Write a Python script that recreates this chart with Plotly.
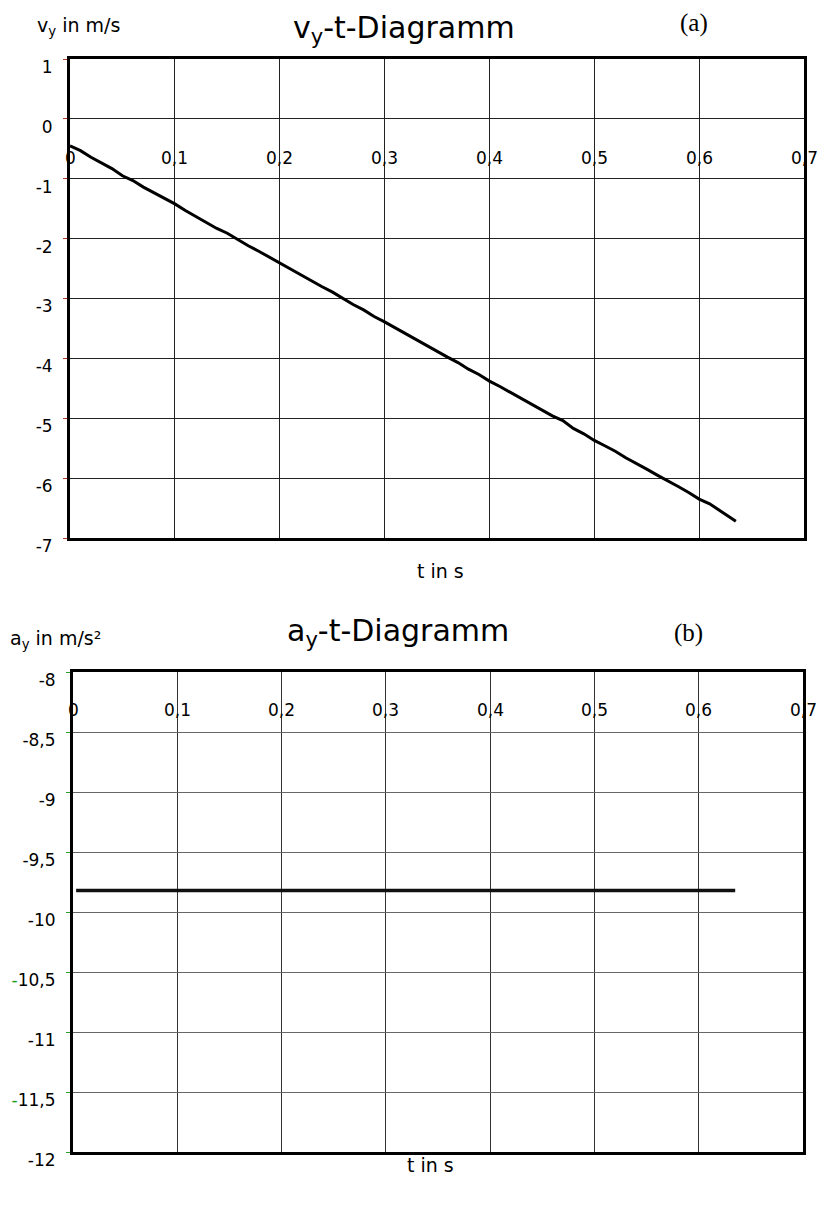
import plotly.graph_objects as go

# ---------------- data ----------------
T_V = [0.00, 0.01, 0.02, 0.03, 0.04, 0.05, 0.06, 0.07, 0.08, 0.09,
       0.10, 0.11, 0.12, 0.13, 0.14, 0.15, 0.16, 0.17, 0.18, 0.19,
       0.20, 0.21, 0.22, 0.23, 0.24, 0.25, 0.26, 0.27, 0.28, 0.29,
       0.30, 0.31, 0.32, 0.33, 0.34, 0.35, 0.36, 0.37, 0.38, 0.39,
       0.40, 0.41, 0.42, 0.43, 0.44, 0.45, 0.46, 0.47, 0.48, 0.49,
       0.50, 0.51, 0.52, 0.53, 0.54, 0.55, 0.56, 0.57, 0.58, 0.59,
       0.60, 0.61, 0.62, 0.63, 0.635]
V_Y = [-0.45, -0.53, -0.64, -0.74, -0.83, -0.95, -1.03, -1.14, -1.23, -1.33,
       -1.42, -1.53, -1.63, -1.72, -1.83, -1.91, -2.02, -2.12, -2.21, -2.31,
       -2.41, -2.51, -2.60, -2.71, -2.80, -2.89, -3.00, -3.10, -3.19, -3.30,
       -3.39, -3.49, -3.58, -3.69, -3.78, -3.88, -3.98, -4.07, -4.18, -4.27,
       -4.38, -4.47, -4.57, -4.66, -4.77, -4.86, -4.96, -5.04, -5.17, -5.26,
       -5.37, -5.46, -5.55, -5.66, -5.75, -5.85, -5.95, -6.04, -6.14, -6.24,
       -6.35, -6.43, -6.54, -6.66, -6.72]

T_A = [0.003, 0.635]
A_Y = [-9.82, -9.82]

X_TICKS = [0, 0.1, 0.2, 0.3, 0.4, 0.5, 0.6, 0.7]
X_TICK_TEXT = ["0", "0,1", "0,2", "0,3", "0,4", "0,5", "0,6", "0,7"]

V_TICKS = [1, 0, -1, -2, -3, -4, -5, -6, -7]
V_TICK_TEXT = ["1", "0", "-1", "-2", "-3", "-4", "-5", "-6", "-7"]

A_TICKS = [-8, -8.5, -9, -9.5, -10, -10.5, -11, -11.5, -12]
A_TICK_TEXT = ["-8", "-8,5", "-9", "-9,5", "-10",
               "<span style='color:#1a9a1a'>-</span>10,5", "-11",
               "<span style='color:#1a9a1a'>-</span>11,5", "-12"]

# ---------------- layout helpers ----------------
# the page body has an 8 px margin, so the figure starts at (8, 8)
OFF = 8
W, H = 825 - OFF, 1205 - OFF
def fx(p):
    return (p - OFF) / W
def fy(p):
    return 1 - (p - OFF) / H

FONT = "DejaVu Sans"

fig = go.Figure()
fig.add_trace(go.Scatter(x=T_V, y=V_Y, mode="lines", xaxis="x", yaxis="y",
                         line=dict(color="black", width=3), showlegend=False))
fig.add_trace(go.Scatter(x=T_A, y=A_Y, mode="lines", xaxis="x2", yaxis="y2",
                         line=dict(color="#111", width=3.5), showlegend=False))

common_x = dict(range=[0, 0.7], tickvals=X_TICKS, showticklabels=False,
                showline=True, mirror=True, linecolor="black", linewidth=3,
                zeroline=False, ticks="", automargin=False)
common_y = dict(showline=True, mirror=True, linecolor="black", linewidth=3,
                gridwidth=1, zeroline=False, automargin=False,
                ticks="outside", ticklen=4, tickwidth=1,
                ticklabelstandoff=7, ticklabelshift=8,
                tickfont=dict(size=17, family=FONT))
fig.update_layout(
    width=W, height=H,
    margin=dict(l=0, r=0, t=0, b=0, autoexpand=False),
    paper_bgcolor="white", plot_bgcolor="white",
    font=dict(family=FONT, color="black", size=17),
    xaxis=dict(domain=[fx(70), fx(804)], anchor="y",
               gridcolor="#222", gridwidth=1, **common_x),
    yaxis=dict(domain=[fy(538), fy(59)], anchor="x", range=[-7, 1],
               tickvals=V_TICKS, ticktext=V_TICK_TEXT,
               gridcolor="#222", tickcolor="#c0392b", **common_y),
    xaxis2=dict(domain=[fx(73), fx(803)], anchor="y2",
                gridcolor="#333", gridwidth=1, **common_x),
    yaxis2=dict(domain=[fy(1152), fy(672)], anchor="x2", range=[-12, -8],
                tickvals=A_TICKS, ticktext=A_TICK_TEXT,
                gridcolor="#666", tickcolor="#2e9e2e", **common_y),
)

ann = []
# x tick labels placed inside the plot, as in the original
for v, t in zip(X_TICKS, X_TICK_TEXT):
    ann.append(dict(x=v, y=-0.66, xref="x", yref="y", text=t, showarrow=False,
                    font=dict(size=17, family=FONT), xanchor="center", yanchor="middle"))
    ann.append(dict(x=v, y=-8.32, xref="x2", yref="y2", text=t, showarrow=False,
                    font=dict(size=17, family=FONT), xanchor="center", yanchor="middle"))

# titles and labels
ann += [
    dict(x=fx(404), y=1.0, xref="paper", yref="paper", showarrow=False,
         text="v<sub>y</sub>-t-Diagramm", font=dict(size=30, family=FONT),
         xanchor="center", yanchor="top"),
    dict(x=fx(694), y=fy(23), xref="paper", yref="paper", showarrow=False,
         text="(a)", font=dict(size=25, family="Liberation Serif"),
         xanchor="center", yanchor="middle"),
    dict(x=fx(35), y=fy(26), xref="paper", yref="paper", showarrow=False,
         text="v<sub>y</sub> in m/s", font=dict(size=19, family=FONT),
         xanchor="left", yanchor="middle"),
    dict(x=fx(440), y=fy(571), xref="paper", yref="paper", showarrow=False,
         text="t in s", font=dict(size=19, family=FONT),
         xanchor="center", yanchor="middle"),
    dict(x=fx(398), y=fy(632), xref="paper", yref="paper", showarrow=False,
         text="a<sub>y</sub>-t-Diagramm", font=dict(size=30, family=FONT),
         xanchor="center", yanchor="middle"),
    dict(x=fx(688), y=fy(633), xref="paper", yref="paper", showarrow=False,
         text="(b)", font=dict(size=25, family="Liberation Serif"),
         xanchor="center", yanchor="middle"),
    dict(x=fx(8), y=fy(639), xref="paper", yref="paper", showarrow=False,
         text="a<sub>y</sub> in m/s²", font=dict(size=19, family=FONT),
         xanchor="left", yanchor="middle"),
    dict(x=fx(430), y=fy(1165), xref="paper", yref="paper", showarrow=False,
         text="t in s", font=dict(size=19, family=FONT),
         xanchor="center", yanchor="middle"),
]
fig.update_layout(annotations=ann)

fig.write_html("out.html")
